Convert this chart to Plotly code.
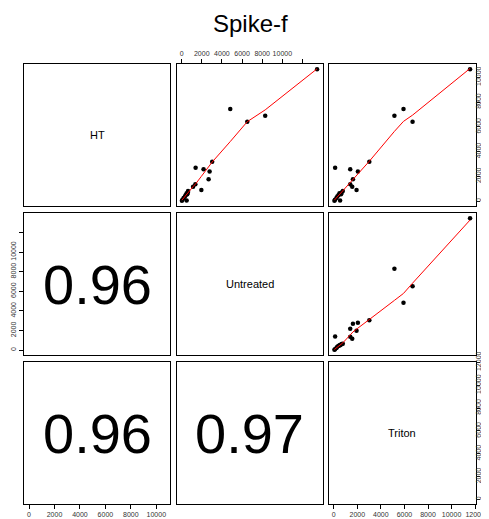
import numpy as np
import plotly.graph_objects as go

# ---------------- data ----------------
title_text = "Spike-f"
var_names = ["HT", "Untreated", "Triton"]
ht        = [10650, 7450, 6900, 6410, 3180, 2690, 2580, 2400, 1770, 1360, 1170, 900, 815, 630, 470, 30, 40, 250, 560, 120, 380, 700]
untreated = [13450, 4830, 8300, 6520, 3035, 1390, 2180, 2780, 2680, 1363, 1140, 1960, 640, 500, 400, 30, 500, 200, 560, 90, 330, 620]
triton    = [11570, 5920, 5150, 6690, 3020, 120, 1400, 2050, 1630, 1400, 1570, 1936, 770, 490, 400, 60, 540, 230, 620, 110, 300, 680]
cor_labels = {(1, 0): "0.96", (2, 0): "0.96", (2, 1): "0.97"}
ticks_10k = [0, 2000, 4000, 6000, 8000, 10000]
ticks_12k = [0, 2000, 4000, 6000, 8000, 10000, 12000]

data = [np.array(ht, float), np.array(untreated, float), np.array(triton, float)]


def lowess(x, y, f=2/3, it=3):
    order = np.argsort(x, kind="stable")
    x = x[order]; y = y[order]
    n = len(x)
    ns = max(min(int(f * n + 1e-7), n), 2)
    rw = np.ones(n)
    ys = np.zeros(n)
    xr = x[-1] - x[0]
    for itr in range(it + 1):
        nleft, nright = 0, ns - 1
        for i in range(n):
            while nright < n - 1 and x[i] - x[nleft] > x[nright + 1] - x[i]:
                nleft += 1; nright += 1
            h = max(x[i] - x[nleft], x[nright] - x[i])
            h9, h1 = 0.999 * h, 0.001 * h
            r = np.abs(x - x[i])
            w = np.zeros(n)
            m = r <= h9
            w[m] = (1 - (r[m] / h) ** 3) ** 3 if h > 0 else 1.0
            w[r <= h1] = 1.0
            w = w * rw
            s = w.sum()
            if s <= 0:
                ys[i] = y[i]; continue
            w = w / s
            if h > 0:
                a = (w * x).sum()
                b = x[i] - a
                c = (w * (x - a) ** 2).sum()
                if np.sqrt(c) > 0.001 * xr:
                    b = b / c
                    w = w * (b * (x - a) + 1)
            ys[i] = (w * y).sum()
        if itr == it:
            break
        res = np.abs(y - ys)
        cmad = 6 * np.median(res)
        if cmad < 1e-7 * res.mean():
            break
        c9, c1 = 0.999 * cmad, 0.001 * cmad
        rw = np.where(res <= c1, 1.0, np.where(res <= c9, (1 - (res / cmad) ** 2) ** 2, 0.0))
    return x, ys


def rng(v):
    lo, hi = v.min(), v.max()
    d = hi - lo
    return [lo - 0.04 * d, hi + 0.04 * d]


OFF = 8  # page body margin of the html output
W, H = 489 - OFF, 519 - OFF
col_px = [(24 - OFF, 170 - OFF), (176.5 - OFF, 322.5 - OFF), (329 - OFF, 475.5 - OFF)]
row_px = [(64 - OFF, 206 - OFF), (213 - OFF, 355 - OFF), (362 - OFF, 504 - OFF)]

fig = go.Figure()
layout = dict(width=W, height=H, margin=dict(l=0, r=0, t=0, b=0, autoexpand=False),
              paper_bgcolor="white", plot_bgcolor="white", showlegend=False)
annotations = []
tick_font = dict(family="Liberation Sans, Arial", size=7, color="#333333")

for r in range(3):
    for c in range(3):
        k = r * 3 + c + 1
        xs = "" if k == 1 else str(k)
        xa, ya = "xaxis" + xs, "yaxis" + xs
        xd = [col_px[c][0] / W, col_px[c][1] / W]
        yd = [1 - row_px[r][1] / H, 1 - row_px[r][0] / H]
        common = dict(showgrid=False, zeroline=False, showline=True, mirror=True,
                      linecolor="black", linewidth=1, ticks="", showticklabels=False,
                      tickfont=tick_font, ticklen=4, tickwidth=1, tickcolor="black",
                      fixedrange=True, automargin=False)
        xax = dict(domain=xd, anchor="y" + xs, range=rng(data[c]), **common)
        yax = dict(domain=yd, anchor="x" + xs, range=rng(data[r]), **common)
        # axes per R pairs convention
        if r == 0 and c == 1:
            xax.update(side="top", ticks="outside", showticklabels=True, tickmode="array",
                       tickvals=ticks_12k, ticktext=[str(t) for t in ticks_10k] + [""])
        if r == 2 and c == 0:
            xax.update(side="bottom", ticks="outside", showticklabels=True, tickmode="array",
                       tickvals=ticks_10k, ticktext=[str(t) for t in ticks_10k])
        if r == 2 and c == 2:
            xax.update(side="bottom", ticks="outside", showticklabels=True, tickmode="array",
                       tickvals=ticks_12k, ticktext=[str(t) for t in ticks_12k])
        if r == 0 and c == 2:
            yax.update(side="right", ticks="outside", showticklabels=True, tickmode="array",
                       tickvals=ticks_10k, ticktext=[str(t) for t in ticks_10k], tickangle=-90,
                       ticklen=3, ticklabelstandoff=-7, ticklabeloverflow="allow")
        if r == 1 and c == 0:
            yax.update(side="left", ticks="outside", showticklabels=True, tickmode="array",
                       tickvals=ticks_12k, ticktext=[str(t) for t in ticks_10k] + [""], tickangle=-90)
        if r == 2 and c == 2:
            yax.update(side="right", ticks="outside", showticklabels=True, tickmode="array",
                       tickvals=ticks_12k, ticktext=[str(t) for t in ticks_12k], tickangle=-90,
                       ticklen=3, ticklabelstandoff=-7, ticklabeloverflow="allow")
        layout[xa] = xax
        layout[ya] = yax

        xref, yref = "x" + xs, "y" + xs
        if r < c:
            fig.add_trace(go.Scatter(x=data[c], y=data[r], mode="markers", xaxis=xref, yaxis=yref,
                                     marker=dict(color="black", size=4.5, line=dict(width=0)),
                                     hoverinfo="skip"))
            lx, ly = lowess(data[c], data[r])
            fig.add_trace(go.Scatter(x=lx, y=ly, mode="lines", xaxis=xref, yaxis=yref,
                                     line=dict(color="#FF0000", width=1), hoverinfo="skip"))
        else:
            # invisible placeholder so the panel's axes are drawn
            fig.add_trace(go.Scatter(x=[np.median(data[c])], y=[np.median(data[r])], mode="markers",
                                     xaxis=xref, yaxis=yref, marker=dict(opacity=0),
                                     hoverinfo="skip"))
            if r == c:
                txt, size = var_names[r], 11
            else:
                txt, size = cor_labels[(r, c)], 56
            annotations.append(dict(text=txt, x=0.5, y=0.5, xref=xref + " domain",
                                    yref=yref + " domain", showarrow=False,
                                    xanchor="center", yanchor="middle",
                                    font=dict(family="Liberation Sans, Arial", size=size, color="black")))

annotations.append(dict(text=title_text, x=(250 - OFF) / W, y=1.0, xref="paper", yref="paper",
                        showarrow=False, xanchor="center", yanchor="top",
                        font=dict(family="Liberation Sans, Arial", size=24, color="black")))
layout["annotations"] = annotations
fig.update_layout(**layout)
fig.write_html("out.html")
